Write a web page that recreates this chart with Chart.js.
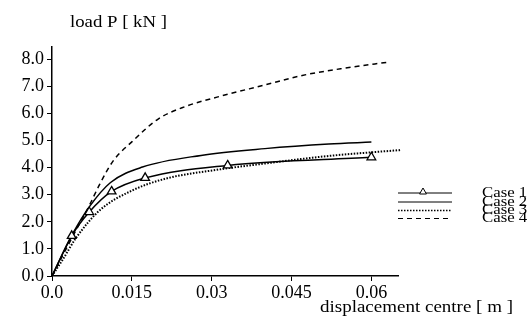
<!DOCTYPE html>
<html>
<head>
<meta charset="utf-8">
<script src="https://cdn.jsdelivr.net/npm/chart.js@4/dist/chart.umd.min.js"></script>
<style>
	html, body { margin: 0; padding: 0; background: #fff; }
	#wrap { width: 529px; height: 331px; }
</style>
</head>
<body>
<div id="wrap"><canvas id="grafico" width="529" height="331"></canvas></div>
<script>
// Dados
const case1X = [0, 0.0037, 0.007, 0.0112, 0.0175, 0.033, 0.06];
const case1Y = [0, 1.48, 2.36, 3.12, 3.62, 4.08, 4.38];

const case2X = [0, 0.004, 0.007, 0.011, 0.017, 0.028, 0.04, 0.052, 0.06];
const case2Y = [0, 1.6, 2.55, 3.45, 4.02, 4.45, 4.7, 4.87, 4.94];

const case3X = [0, 0.002, 0.0045, 0.009, 0.015, 0.0215, 0.031, 0.04, 0.052, 0.0656];
const case3Y = [0, 0.6, 1.4, 2.43, 3.15, 3.6, 3.92, 4.15, 4.43, 4.65];

const case4X = [0, 0.004, 0.007, 0.009, 0.0115, 0.015, 0.02, 0.025, 0.031, 0.04, 0.047, 0.055, 0.0635];
const case4Y = [0, 1.5, 2.6, 3.4, 4.25, 4.95, 5.8, 6.25, 6.6, 7.05, 7.4, 7.67, 7.9];

const yTicks = [0, 1, 2, 3, 4, 5, 6, 7, 8];
const xTicks = [0, 0.015, 0.03, 0.045, 0.06];
const xTickLabels = ["0.0", "0.015", "0.03", "0.045", "0.06"];
const legendLabels = ["Case 1", "Case 2", "Case 3", "Case 4"];

const fonte = "Liberation Serif";

// Monta pares {x, y}
function pares(xs, ys) {
	return xs.map((v, i) => ({ x: v, y: ys[i] }));
}

// Texto esticado na horizontal
function textoEsticado(ctx, txt, x, y, fator) {
	ctx.save();
	ctx.translate(x, y);
	ctx.scale(fator, 1);
	ctx.fillText(txt, 0, 0);
	ctx.restore();
}

// Texto esticado até a largura desejada
function textoLargo(ctx, txt, x, y, largura) {
	textoEsticado(ctx, txt, x, y, largura / ctx.measureText(txt).width);
}

const datasets = [
	{
		label: legendLabels[0],
		data: pares(case1X, case1Y),
		borderColor: "#000",
		borderWidth: 1.5,
		pointStyle: "triangle",
		pointRadius: [0, 5, 5, 5, 5, 5, 5],
		pointBackgroundColor: "#fff",
		pointBorderColor: "#000",
		pointBorderWidth: 1.3,
		cubicInterpolationMode: "monotone",
	},
	{
		label: legendLabels[1],
		data: pares(case2X, case2Y),
		borderColor: "#000",
		borderWidth: 1.5,
		pointRadius: 0,
		cubicInterpolationMode: "monotone",
	},
	{
		label: legendLabels[2],
		data: pares(case3X, case3Y),
		borderColor: "#000",
		borderWidth: 2,
		borderDash: [1.5, 1.5],
		pointRadius: 0,
		cubicInterpolationMode: "monotone",
	},
	{
		label: legendLabels[3],
		data: pares(case4X, case4Y),
		borderColor: "#000",
		borderWidth: 1.5,
		borderDash: [5, 4],
		pointRadius: 0,
		cubicInterpolationMode: "monotone",
	},
];

// Títulos dos eixos e legenda desenhados à mão
const extras = {
	id: "extras",
	afterDraw(chart) {
		const ctx = chart.ctx;
		const area = chart.chartArea;
		ctx.save();
		ctx.fillStyle = "#000";
		ctx.textBaseline = "alphabetic";
		ctx.textAlign = "left";
		ctx.font = "17px '" + fonte + "'";
		textoLargo(ctx, "load P [ kN ]", 70, 27, 97);
		ctx.font = "16px '" + fonte + "'";
		textoLargo(ctx, "displacement centre [ m ]", 320, 312, 193);

		// legenda
		const linhaY = [193, 202, 210.5, 218.5];
		const textoY = [197, 205.5, 214, 222];
		chart.data.datasets.forEach((ds, i) => {
			const y = linhaY[i];
			ctx.save();
			ctx.strokeStyle = ds.borderColor;
			ctx.lineWidth = i == 2 ? 1.6 : 1;
			ctx.setLineDash(ds.borderDash || []);
			ctx.beginPath();
			ctx.moveTo(area.right, y);
			ctx.lineTo(area.right + 54, y);
			ctx.stroke();
			ctx.restore();
			if (ds.pointStyle == "triangle") {
				ctx.save();
				ctx.fillStyle = "#fff";
				ctx.strokeStyle = "#000";
				ctx.lineWidth = 1;
				Chart.helpers.drawPoint(ctx, {
					pointStyle: "triangle",
					radius: 4,
					borderWidth: 1,
				}, area.right + 25, y - 1);
				ctx.restore();
			}
			ctx.font = "14px '" + fonte + "'";
			textoEsticado(ctx, ds.label, 482, textoY[i], 1.2);
		});
		ctx.restore();
	},
};

let grafico = new Chart(document.getElementById("grafico"), {
	type: "line",
	data: { datasets: datasets },
	plugins: [extras],
	options: {
		responsive: false,
		animation: false,
		clip: false,
		layout: {
			padding: { left: 0, right: 131, top: 47, bottom: 0 },
		},
		plugins: {
			legend: { display: false },
			tooltip: { enabled: false },
		},
		scales: {
			x: {
				type: "linear",
				min: 0,
				max: 0.065,
				afterFit: (s) => { s.height = 55; },
				afterBuildTicks: (s) => { s.ticks = xTicks.map((v) => ({ value: v })); },
				grid: { drawOnChartArea: false, drawTicks: true, tickLength: 5, color: "#000", lineWidth: 1 },
				border: { display: true, color: "#000", width: 1.5 },
				ticks: {
					color: "#000",
					padding: 1,
					maxRotation: 0,
					font: { family: fonte, size: 18 },
					callback: (v) => xTickLabels[xTicks.indexOf(v)],
				},
			},
			y: {
				type: "linear",
				min: 0,
				max: 8.45,
				afterFit: (s) => { s.width = 52; },
				afterBuildTicks: (s) => { s.ticks = yTicks.map((v) => ({ value: v })); },
				grid: { drawOnChartArea: false, drawTicks: true, tickLength: 5, color: "#000", lineWidth: 1 },
				border: { display: true, color: "#000", width: 1.5 },
				ticks: {
					color: "#000",
					padding: 3,
					font: { family: fonte, size: 18 },
					callback: (v) => v.toFixed(1),
				},
			},
		},
	},
});
</script>
</body>
</html>
